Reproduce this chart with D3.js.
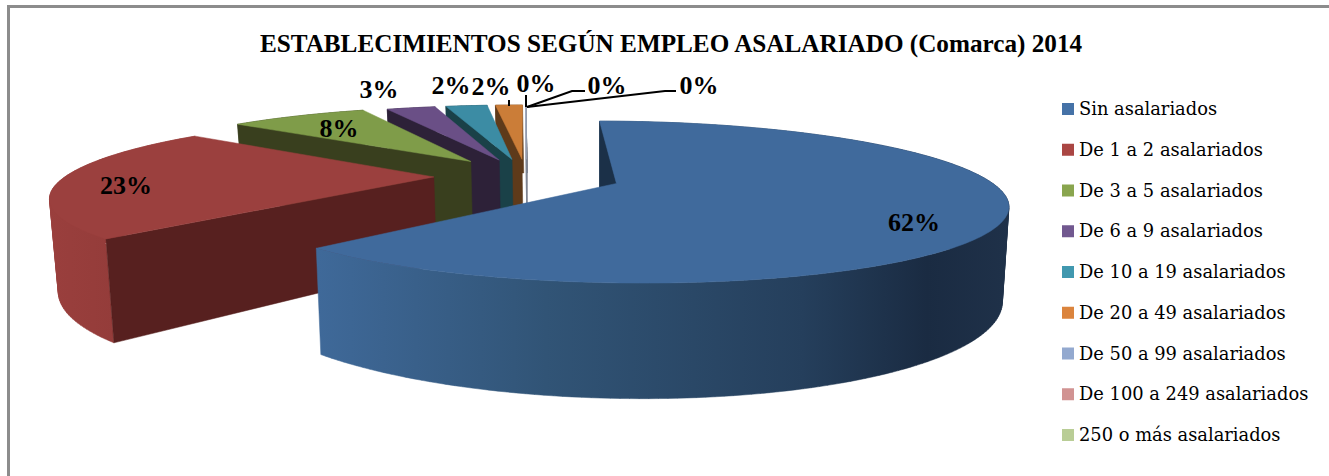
<!DOCTYPE html>
<html>
<head>
<meta charset="utf-8">
<script src="https://cdn.jsdelivr.net/npm/d3@7"></script>
<style>
html, body { margin: 0; padding: 0; background: #fff; }
svg { display: block; }
text { font-family: "Liberation Serif", serif; fill: #000; }
.title { font-size: 25.2px; font-weight: bold; }
.legend { font-family: "DejaVu Serif", serif; font-size: 17.85px; }
.pct { font-size: 26px; font-weight: bold; }
</style>
</head>
<body>
<svg id="chart"></svg>
<script>
const categories = ['Sin asalariados', 'De 1 a 2 asalariados', 'De 3 a 5 asalariados', 'De 6 a 9 asalariados',
    'De 10 a 19 asalariados', 'De 20 a 49 asalariados', 'De 50 a 99 asalariados', 'De 100 a 249 asalariados', '250 o más asalariados'];
// porcentajes estimados
const values = [62.49, 23.4, 7.6, 2.7, 2.3, 1.5, 0.006, 0.002, 0.002];
const labels = ['62%', '23%', '8%', '3%', '2%', '2%', '0%', '0%', '0%'];
const explodes = [0.26, 0.25, 0.26, 0.24, 0.24, 0.24, 0.24, 0.24, 0.24];

const topColors = ['#406a9c', '#9b403e', '#7f9c49', '#6a4f86', '#3c8ca4', '#cb7d38', '#b4c2da', '#cd8f8d', '#b5c887'];
const wallColors = ['#1b3048', '#57201f', '#393f1e', '#2d2138', '#1a4148', '#5e3a1a', '#7d8797', '#8a7f80', '#7d8797'];
const legendColors = ['#4572a7', '#aa4643', '#89a54e', '#71588f', '#4198af', '#db843d', '#93a9cf', '#d19392', '#b9cd96'];

const width = 1329, height = 476;
const cx = 526, cy = 176, rx = 368, ry = 73.3, persp = 0.225, depth = 87;
const vanishX = 600, bottomShrink = 0.984;

let svg = d3.select('#chart').attr('width', width).attr('height', height);

// marco: solo se ven los lados superior e izquierdo
svg.append('rect')
    .attr('x', 8.5).attr('y', 6.5)
    .attr('width', 1340).attr('height', 490)
    .attr('fill', '#fff')
    .attr('stroke', '#8c8c8c')
    .attr('stroke-width', 3);

svg.append('text')
    .attr('class', 'title')
    .attr('x', 671).attr('y', 52)
    .attr('text-anchor', 'middle')
    .text('ESTABLECIMIENTOS SEGÚN EMPLEO ASALARIADO (Comarca) 2014');

// proyeccion del plano de la tarta a la pantalla
function project(u, v, bottom) {
    let s = 1 / (1 - persp * v);
    let x = cx + rx * u * s;
    let y = cy + ry * v * s;
    if (bottom) {
        x = vanishX + (x - vanishX) * bottomShrink;
        y += depth * s;
    }
    return [x, y];
}

let pie = d3.pie().sort(null).value(d => d);
let slices = pie(values);
let line = d3.line();

function rimPoints(d, bottom) {
    let mid = (d.startAngle + d.endAngle) / 2;
    let e = explodes[d.index];
    let ou = e * Math.sin(mid), ov = -e * Math.cos(mid);
    let n = Math.max(2, Math.ceil((d.endAngle - d.startAngle) / 0.02));
    return d3.range(n + 1).map(i => {
        let a = d.startAngle + (d.endAngle - d.startAngle) * i / n;
        return project(ou + Math.sin(a), ov - Math.cos(a), bottom);
    });
}

function apex(d, bottom) {
    let mid = (d.startAngle + d.endAngle) / 2;
    let e = explodes[d.index];
    return project(e * Math.sin(mid), -e * Math.cos(mid), bottom);
}

// degradado de la pared exterior
let defs = svg.append('defs');
let blueGrad = defs.append('linearGradient')
    .attr('id', 'wall0')
    .attr('gradientUnits', 'userSpaceOnUse')
    .attr('x1', 318).attr('x2', 1010).attr('y1', 0).attr('y2', 0);
[[0, '#3f6999'], [0.33, '#315476'], [0.7, '#253f5c'], [0.88, '#1a2b42'], [1, '#1f3149']].forEach(s => {
    blueGrad.append('stop').attr('offset', s[0]).attr('stop-color', s[1]);
});
let redGrad = defs.append('linearGradient')
    .attr('id', 'wall1')
    .attr('gradientUnits', 'userSpaceOnUse')
    .attr('x1', 48).attr('x2', 115).attr('y1', 0).attr('y2', 0);
[[0, '#9a3f3d'], [1, '#943c3a']].forEach(s => {
    redGrad.append('stop').attr('offset', s[0]).attr('stop-color', s[1]);
});

// de atras hacia delante
let g = svg.append('g');
slices.slice().reverse().forEach(d => {
    let i = d.index;
    let rimTop = rimPoints(d, false);
    let rimBottom = rimPoints(d, true);
    let outerFill = i == 0 ? 'url(#wall0)' : (i == 1 ? 'url(#wall1)' : wallColors[i]);

    // pared exterior, por tramos para que no se anule al doblarse
    let wall = d3.range(rimTop.length - 1).map(k => {
        let quad = [rimTop[k], rimTop[k + 1], rimBottom[k + 1], rimBottom[k]];
        if (d3.polygonArea(quad) < 0) quad.reverse();
        return line(quad) + 'Z';
    }).join('');
    g.append('path')
        .attr('d', wall)
        .attr('fill', outerFill)
        .attr('stroke', outerFill)
        .attr('stroke-width', 0.5);
    // pared de corte
    g.append('path')
        .attr('d', line([apex(d, false), rimTop[0], rimBottom[0], apex(d, true)]) + 'Z')
        .attr('fill', wallColors[i])
        .attr('stroke', wallColors[i])
        .attr('stroke-width', 0.5);
    // cara superior
    g.append('path')
        .attr('d', line([apex(d, false)].concat(rimTop)) + 'Z')
        .attr('fill', topColors[i])
        .attr('stroke', topColors[i])
        .attr('stroke-width', 0.5);
});

// lineas guia
const leaders = [
    [[509, 100], [509, 106]],
    [[526, 95], [526, 107]],
    [[527, 107], [572, 91], [585, 91]],
    [[527, 107], [665, 91], [676, 91]]
];
leaders.forEach(pts => {
    svg.append('path')
        .attr('d', line(pts))
        .attr('fill', 'none')
        .attr('stroke', '#000')
        .attr('stroke-width', 2);
});

// etiquetas de porcentaje
const labelPos = [[914, 231], [126, 194], [339, 137], [379, 98], [451, 94], [491, 95], [536, 92], [607, 94], [699, 94]];
labels.forEach((t, i) => {
    svg.append('text')
        .attr('class', 'pct')
        .attr('x', labelPos[i][0]).attr('y', labelPos[i][1])
        .attr('text-anchor', 'middle')
        .text(t);
});

// leyenda
let legendY = d3.scalePoint().domain(categories).range([109, 435]);
let legend = svg.append('g').selectAll('g')
    .data(categories)
    .enter()
    .append('g')
    .attr('transform', d => 'translate(1062,' + legendY(d) + ')');
legend.append('rect')
    .attr('x', 0).attr('y', -6)
    .attr('width', 12).attr('height', 12)
    .attr('fill', (d, i) => legendColors[i]);
legend.append('text')
    .attr('class', 'legend')
    .attr('x', 17).attr('y', 6)
    .text(d => d);
</script>
</body>
</html>
